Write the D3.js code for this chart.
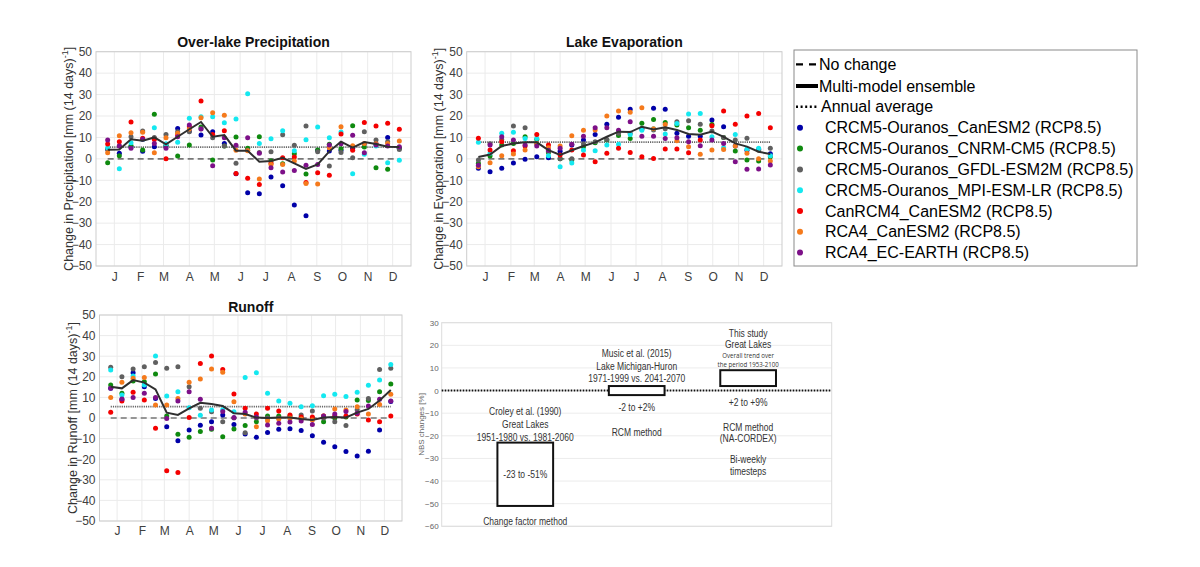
<!DOCTYPE html>
<html><head><meta charset="utf-8">
<script src="https://cdn.jsdelivr.net/npm/d3@7"></script>
<style>body{margin:0;background:#fff} svg{display:block;font-family:"Liberation Sans",Arial,sans-serif}</style>
</head><body><svg id="c" width="1200" height="567"></svg>
<script>
// ---------- data ----------
const days = d3.range(26).map(k => 7 + 14 * k);            // bi-weekly periods (day of year)
const monthDays = [15, 46, 74, 105, 135, 166, 196, 227, 258, 288, 319, 349];
const monthLabels = ["J","F","M","A","M","J","J","A","S","O","N","D"];
const yTicks = [-50,-40,-30,-20,-10,0,10,20,30,40,50];

const modelNames = ["CRCM5-Ouranos_CanESM2 (RCP8.5)","CRCM5-Ouranos_CNRM-CM5 (RCP8.5)","CRCM5-Ouranos_GFDL-ESM2M (RCP8.5)","CRCM5-Ouranos_MPI-ESM-LR (RCP8.5)","CanRCM4_CanESM2 (RCP8.5)","RCA4_CanESM2 (RCP8.5)","RCA4_EC-EARTH (RCP8.5)"];
const modelColors = ["#0000a8","#0f8a0f","#606060","#14e8f0","#f40000","#f57a1c","#7d1088"];

// Over-lake precipitation
const precipCRCM5CanESM2 = [4.5,2.6,5.7,3.5,5.7,6,14.2,13,11.1,12.7,7.2,-7,-15.8,-16.3,-8.5,-12.5,-21.5,-26.5,4,3.7,4,5,7,7,10,5];
const precipCRCM5CNRM = [-1.8,1.5,6.1,4.1,20.8,6.5,1.3,6.5,14.9,-0.5,6,10.2,5,10.3,-1,-2.3,2.4,-7.1,4.1,6.8,4.7,15.5,5.5,-4.1,-4.9,5];
const precipCRCM5GFDL = [4.5,6,10.3,13,10,11.4,12.7,12.7,14,9.9,6,-2.1,4,3,3.3,11.3,6.3,15.3,3.3,-3.3,3,0.5,12.7,8.8,8,4.4];
const precipCRCM5MPI = [5.2,-4.6,7.5,9,14.5,7,7.7,19,19.7,19.7,16.9,18.6,30.4,7.2,9.4,13.1,3.8,8.9,14.9,9.9,12.5,-6.9,2.1,6,-1.8,-0.7];
const precipCanRCM4 = [6.9,8,17.2,9.6,9,0,11.1,15,27,11.4,13.1,-6.8,-9.1,-12,-2.1,0.5,0.9,-11,-6.5,-7.7,11.6,4,17,15.3,16.6,13.8];
const precipRCA4CanESM2 = [2.9,10.8,12.2,12.4,2.9,9.9,11.9,13.9,19.2,21.5,20.3,4,3.8,-9.4,-2.6,-2.6,-1,-11.5,-11.7,5.2,15,6.1,7.2,7,7.2,8.3];
const precipRCA4ECEARTH = [8.8,6,4.9,9.1,7.2,5,10.3,15.8,13.9,-3.2,9.9,6.3,9.9,2.6,-4.1,-6.1,-5.4,-3,-2.6,6.5,7,11,2.9,6.5,6,5.7];
const precipEnsemble = [4.3,4.4,9.1,8.5,10,6.8,10.3,13.8,17.2,10.3,11.1,3.8,3.8,-1.3,-1,0.5,-2.1,-4.7,-2.6,3.5,8,5.2,7.8,6.9,5.7,5.5];
const precipAnnual = 5.5;

// Lake evaporation
const evapCRCM5CanESM2 = [-4.4,-6,-4.4,-1.9,-0.2,1,0.5,3.5,6.5,8.8,11.4,16.1,19.4,23.1,14,23.6,23.1,12,10.6,10.5,18.1,15,6,4,4.5,2.4];
const evapCRCM5CNRM = [-2,1.3,6.5,7.2,10.3,9.1,3,0,-0.5,5.7,7.5,8.8,10.9,9.5,16.6,18.4,17,15.8,14.5,13.3,16,10,3.7,-0.5,-1,1];
const evapCRCM5GFDL = [-0.5,7,9,15.3,14.5,7,3.5,0,0,7,8,9,12,12,14,13.5,14,17.3,17.8,16.2,13,10,8.8,9.6,4,4.9];
const evapCRCM5MPI = [7.7,2.6,11.9,12.4,9.5,9.5,1.5,-3.7,-1.9,4,3.8,6.5,6.8,11.4,13.4,14,11.6,16.5,20.9,21.2,10.3,5.2,11.4,4.6,4.9,1.5];
const evapCanRCM4 = [9.6,4.1,8,3.8,6,11.4,6.5,1.8,4.1,1.8,-1.3,2.6,4.9,3,1,0.2,4.6,4.6,2.9,8.8,15.5,22.3,16.1,20,21.2,14.5];
const evapRCA4CanESM2 = [-3.7,-1.8,1.5,2.3,4.1,7,5.2,6,10.8,13.3,13.5,20,22.3,21.7,23.9,14,16,8.5,5.7,2.1,4.1,4.4,6,2.6,0,-1];
const evapRCA4ECEARTH = [-3,6.5,10.3,8.8,6.5,6,4,5,6.8,10.5,14.5,14.5,13.3,17.3,10.5,10.6,9.5,9.9,8,6.1,8.8,7.2,-1.3,-4.9,-4.7,-2.9];
const evapEnsemble = [0.9,2,6,7.2,7.7,7.7,4.1,1.8,4,6,7.7,10.3,12.7,12.5,15,13.7,14.7,13.5,11.6,11.3,12.7,10.3,7.2,5.7,3.3,2.3];
const evapAnnual = 7.8;

// Runoff
const runoffCRCM5CanESM2 = [14.5,9,22,15.2,9.5,-4.2,-11,-5.8,-3.5,-1.8,1.5,-3.1,-7.8,-9.4,-7,-5.5,-5.2,-6.1,-8.6,-11.8,-13.9,-16.3,-18.4,-16.2,-5.8,8];
const runoffCRCM5CNRM = [16,12,18,17.6,21.4,1,-7.9,-9.4,-6.6,-5.5,-9.1,-5.3,-3.7,-1.8,1,1,1,0,0,-1.8,0,0.5,8.7,8.5,12.8,16.5];
const runoffCRCM5GFDL = [24.6,20,23.8,24.9,26.9,24.1,24.9,15.2,4.7,3,-1.8,0,-7.1,0,0,0,0,1.5,3.4,0,-1.8,-3.7,4,9.5,23.6,24.1];
const runoffCRCM5MPI = [23.3,11.2,20.4,16,30.1,10.7,12.8,5,1.3,3.9,4,3,19.6,22,12,8.3,7.1,5.5,6,10.8,11.5,10.4,12.5,15.9,18.4,26];
const runoffCanRCM4 = [2.8,8.3,12.5,8.7,-5,-25.6,-26.4,0.2,26.5,30.1,23.6,11.7,4.7,1.9,4.7,3.4,1.5,0.5,0.5,1,1,1,1.9,-1,-1.8,1];
const runoffRCA4CanESM2 = [10,17.3,19.3,19.7,6.3,6.3,9.5,17.3,18.9,23.8,22.2,7.9,2,-4.2,-1.3,-0.5,0,-0.5,-1,1,4.4,3.9,5.5,2,6.6,11.5];
const runoffRCA4ECEARTH = [14.4,9.2,10,12,10,-0.3,8.3,12.8,9.1,-5,3.1,0.2,2.8,0.5,-3.4,-2.6,-1.9,-1.5,-3.1,1,1.9,3.1,2.3,5.8,9.1,8.3];
const runoffEnsemble = [15.2,14.4,18.4,17.2,13.9,2.6,1.5,4.7,7.4,6.8,5.8,2.3,1.9,0.2,0,0.2,0.2,-0.5,-1,0.2,0.5,0.3,2.6,4.4,8.5,13.6];
const runoffAnnual = 5.5;

// NBS comparison panel
const nbsStudies = ["Croley et al. (1990)", "Music et al. (2015)", "This study"];
const nbsLow = [-51, -2, 2];
const nbsHigh = [-23, 2, 9];
const nbsTicks = [-60,-50,-40,-30,-20,-10,0,10,20,30];

// ---------- drawing ----------
const svg = d3.select("#c");
const TXT = "#404040";

function panel(cfg) {
  const g = svg.append("g");
  const x = d3.scaleLinear().domain([-7, 371]).range([cfg.left, cfg.right]);
  const y = d3.scaleLinear().domain([-50, 50]).range([cfg.bottom, cfg.top]);
  g.append("g").selectAll("line").data(monthDays).join("line")
    .attr("x1", d => x(d)).attr("x2", d => x(d)).attr("y1", cfg.top).attr("y2", cfg.bottom)
    .attr("stroke", "#ebebeb");
  g.append("g").selectAll("line").data(yTicks).join("line")
    .attr("x1", cfg.left).attr("x2", cfg.right).attr("y1", d => y(d)).attr("y2", d => y(d))
    .attr("stroke", "#ebebeb");
  g.append("rect").attr("x", cfg.left).attr("y", cfg.top)
    .attr("width", cfg.right - cfg.left).attr("height", cfg.bottom - cfg.top)
    .attr("fill", "none").attr("stroke", "#cdcdcd");

  const ya = g.append("g").attr("transform", `translate(${cfg.left},0)`)
    .call(d3.axisLeft(y).tickValues(yTicks).tickSize(0).tickPadding(4));
  ya.select(".domain").remove();
  ya.selectAll("text").attr("fill", TXT).style("font-size", "12px").style("font-family", "Liberation Sans, Arial");
  const xa = g.append("g").attr("transform", `translate(0,${cfg.bottom})`)
    .call(d3.axisBottom(x).tickValues(monthDays).tickFormat((d, i) => monthLabels[i]).tickSize(0).tickPadding(cfg.xpad));
  xa.select(".domain").remove();
  xa.selectAll("text").attr("fill", TXT).style("font-size", "12px").style("font-family", "Liberation Sans, Arial");

  g.append("text").attr("x", (cfg.left + cfg.right) / 2).attr("y", cfg.titleY)
    .attr("text-anchor", "middle").attr("font-weight", "bold").attr("font-size", 14).attr("fill", "#111")
    .text(cfg.title);
  const yl = g.append("text").attr("transform", `translate(${cfg.ylabX},${(cfg.top + cfg.bottom) / 2}) rotate(-90)`)
    .attr("text-anchor", "middle").attr("font-size", 12.5).attr("fill", "#333");
  yl.append("tspan").text(`Change in ${cfg.varName} [mm (14 days)`);
  yl.append("tspan").attr("dy", -5).attr("font-size", 9).text("-1");
  yl.append("tspan").attr("dy", 5).text("]");

  g.append("line").attr("x1", x(days[0])).attr("x2", x(days[25])).attr("y1", y(0)).attr("y2", y(0))
    .attr("stroke", "#777").attr("stroke-width", 1.6).attr("stroke-dasharray", "6,4");
  g.append("line").attr("x1", x(days[0])).attr("x2", x(days[25])).attr("y1", y(cfg.annual)).attr("y2", y(cfg.annual))
    .attr("stroke", "#666").attr("stroke-width", 1.7).attr("stroke-dasharray", "1.2,1");

  cfg.series.forEach((s, m) => {
    g.append("g").selectAll("circle").data(s).join("circle")
      .attr("cx", (d, i) => x(days[i])).attr("cy", d => y(d)).attr("r", 2.5)
      .attr("fill", modelColors[m]);
  });
  g.append("path").datum(cfg.ensemble)
    .attr("d", d3.line().x((d, i) => x(days[i])).y(d => y(d)))
    .attr("fill", "none").attr("stroke", "#2f2f2f").attr("stroke-width", 2);
}

panel({left: 96, right: 411, top: 51.7, bottom: 266, xpad: 6, titleY: 47, ylabX: 73,
  title: "Over-lake Precipitation", varName: "Precipitation", annual: precipAnnual, ensemble: precipEnsemble,
  series: [precipCRCM5CanESM2, precipCRCM5CNRM, precipCRCM5GFDL, precipCRCM5MPI, precipCanRCM4, precipRCA4CanESM2, precipRCA4ECEARTH]});
panel({left: 466.7, right: 782, top: 51.7, bottom: 266, xpad: 6, titleY: 47, ylabX: 443,
  title: "Lake Evaporation", varName: "Evaporation", annual: evapAnnual, ensemble: evapEnsemble,
  series: [evapCRCM5CanESM2, evapCRCM5CNRM, evapCRCM5GFDL, evapCRCM5MPI, evapCanRCM4, evapRCA4CanESM2, evapRCA4ECEARTH]});
panel({left: 99.5, right: 402, top: 315, bottom: 521, xpad: 5, titleY: 312, ylabX: 77,
  title: "Runoff", varName: "Runoff", annual: runoffAnnual, ensemble: runoffEnsemble,
  series: [runoffCRCM5CanESM2, runoffCRCM5CNRM, runoffCRCM5GFDL, runoffCRCM5MPI, runoffCanRCM4, runoffRCA4CanESM2, runoffRCA4ECEARTH]});

// ---------- legend ----------
const lg = svg.append("g");
lg.append("rect").attr("x", 794).attr("y", 50).attr("width", 343).attr("height", 216)
  .attr("fill", "#fff").attr("stroke", "#8a8a8a").attr("stroke-width", 1);
const lineItems = ["No change", "Multi-model ensemble", "Annual average"];
const lineY = [64.3, 86, 106.7];
lg.append("line").attr("x1", 796).attr("x2", 818).attr("y1", lineY[0]).attr("y2", lineY[0])
  .attr("stroke", "#000").attr("stroke-width", 2.2).attr("stroke-dasharray", "7,6");
lg.append("line").attr("x1", 796).attr("x2", 818).attr("y1", lineY[1]).attr("y2", lineY[1])
  .attr("stroke", "#000").attr("stroke-width", 4);
lg.append("line").attr("x1", 796).attr("x2", 818).attr("y1", lineY[2]).attr("y2", lineY[2])
  .attr("stroke", "#000").attr("stroke-width", 2.4).attr("stroke-dasharray", "2,2.6");
lg.selectAll(".lt").data(lineItems).join("text")
  .attr("x", (d, i) => i === 2 ? 821 : 819).attr("y", (d, i) => lineY[i] + 5.5)
  .attr("font-size", 16).attr("fill", "#000").text(d => d);
const modelY = [127.7, 148.6, 169.4, 190.2, 211, 231.8, 252.6];
lg.selectAll(".md").data(modelNames).join("circle")
  .attr("cx", 800).attr("cy", (d, i) => modelY[i]).attr("r", 3).attr("fill", (d, i) => modelColors[i]);
lg.selectAll(".mt").data(modelNames).join("text")
  .attr("x", 825).attr("y", (d, i) => modelY[i] + 5.5)
  .attr("font-size", 16).attr("fill", "#000").text(d => d);

// ---------- NBS comparison panel ----------
const ng = svg.append("g");
const bx = d3.scaleLinear().domain([0.25, 3.75]).range([441.7, 831.7]);
const by = d3.scaleLinear().domain([-60, 30]).range([526.3, 322.7]);
ng.append("g").selectAll("line").data(nbsTicks).join("line")
  .attr("x1", bx(0.25)).attr("x2", bx(3.75)).attr("y1", d => by(d)).attr("y2", d => by(d))
  .attr("stroke", "#ececec");
ng.append("rect").attr("x", bx(0.25)).attr("y", by(30)).attr("width", bx(3.75) - bx(0.25)).attr("height", by(-60) - by(30))
  .attr("fill", "none").attr("stroke", "#dcdcdc");
const na = ng.append("g").attr("transform", `translate(${bx(0.25)},0)`)
  .call(d3.axisLeft(by).tickValues(nbsTicks).tickSize(0).tickPadding(3));
na.select(".domain").remove();
na.selectAll("text").attr("fill", "#666").style("font-size", "8px").style("font-family", "Liberation Sans, Arial");
ng.append("text").attr("transform", `translate(424,${by(-15)}) rotate(-90)`)
  .attr("text-anchor", "middle").attr("font-size", 8).attr("fill", "#666").text("NBS changes [%]");
ng.append("line").attr("x1", bx(0.25)).attr("x2", bx(3.75)).attr("y1", by(0)).attr("y2", by(0))
  .attr("stroke", "#111").attr("stroke-width", 2).attr("stroke-dasharray", "1.6,1.4");
ng.selectAll(".box").data(nbsStudies).join("rect")
  .attr("x", (d, i) => bx(i + 1 - 0.25)).attr("width", bx(0.75) - bx(0.25))
  .attr("y", (d, i) => by(nbsHigh[i])).attr("height", (d, i) => by(nbsLow[i]) - by(nbsHigh[i]))
  .attr("fill", "#fff").attr("stroke", "#111").attr("stroke-width", 2);

function note(cx, cy, txt, size, sx, fam) {
  ng.append("text").attr("transform", `translate(${cx},${cy + size * 0.36}) scale(${sx},1)`)
    .attr("text-anchor", "middle").attr("font-size", size).attr("fill", "#333")
    .attr("font-family", fam || "Liberation Sans, Arial").text(txt);
}
const c1 = bx(1), c2 = bx(2), c3 = bx(3);
const croleyText = ["Croley et al. (1990)", "Great Lakes", "1951-1980 vs. 1981-2060"];
[411.2, 424.3, 437.2].forEach((yy, i) => note(c1, yy, croleyText[i], 11.5, 0.74));
note(c1, 474, "-23 to -51%", 11.5, 0.74);
note(c1, 520.7, "Change factor method", 11.5, 0.74);
const musicText = ["Music et al. (2015)", "Lake Michigan-Huron", "1971-1999 vs. 2041-2070"];
[353.3, 366, 378.3].forEach((yy, i) => note(c2, yy, musicText[i], 11.5, 0.74));
note(c2, 406.7, "-2 to +2%", 11.5, 0.74);
note(c2, 431.7, "RCM method", 11.5, 0.74);
note(c3, 333, "This study", 11.5, 0.74);
note(c3, 343.6, "Great Lakes", 11.5, 0.74);
note(c3, 355, "Overall trend over", 7.5, 0.82, "Open Sans, sans-serif");
note(c3, 364.6, "the period 1953-2100", 7.5, 0.82, "Open Sans, sans-serif");
note(c3, 401.7, "+2 to +9%", 11.5, 0.74);
note(c3, 426.7, "RCM method", 11.5, 0.74);
note(c3, 438.3, "(NA-CORDEX)", 11.5, 0.74);
note(c3, 459.3, "Bi-weekly", 11.5, 0.74);
note(c3, 471, "timesteps", 11.5, 0.74);
</script></body></html>
